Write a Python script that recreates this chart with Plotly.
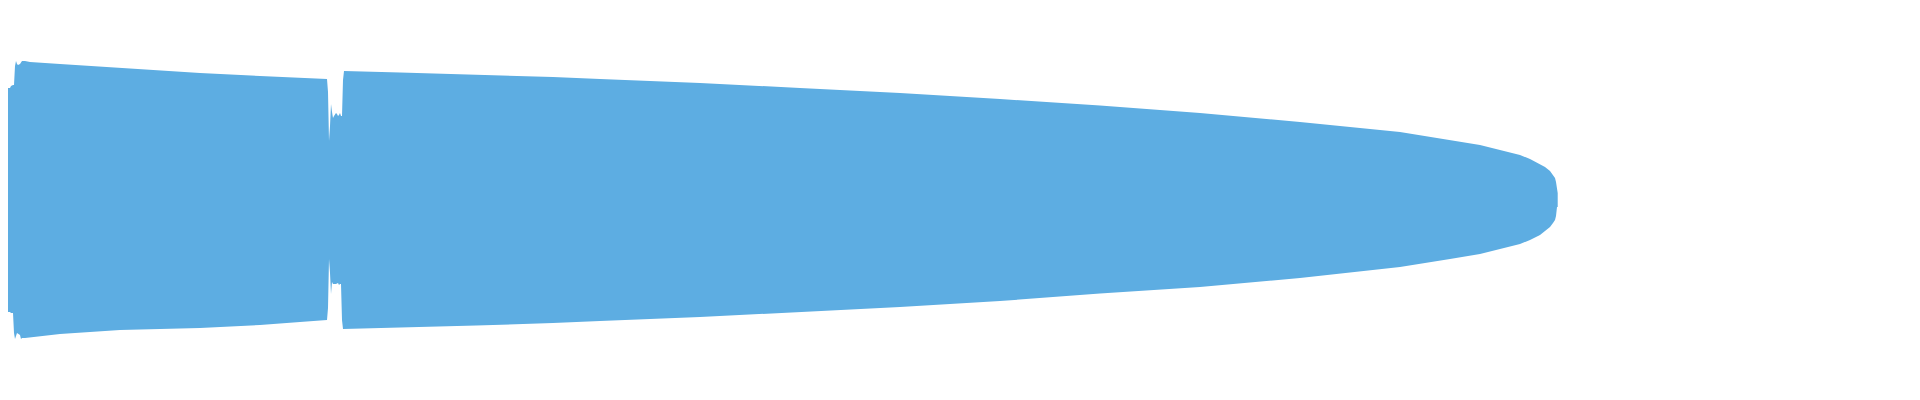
import plotly.graph_objects as go

# waveform envelope (peak max / peak min per frame)
frames = [2, 3, 4, 5, 6, 7, 8, 10, 11, 13, 14, 15, 16, 17, 18, 20, 21, 22, 25, 30,
          60, 120, 200, 260, 300, 327, 328, 329, 330, 331, 332, 333, 334, 335, 336,
          337, 338, 339, 340, 341, 342, 343, 344, 400, 476, 553, 600, 700, 800, 900,
          1000, 1100, 1200, 1300, 1400, 1450, 1480, 1500, 1520, 1530, 1540, 1545,
          1550, 1553, 1555, 1556, 1557, 1557.7]

peak_max = [0.585, 0.585, 0.61, 0.615, 0.595, 0.58, 0.56, 0.56, 0.57, 0.575, 0.575, 0.67,
            0.695, 0.68, 0.675, 0.68, 0.69, 0.695, 0.695, 0.69,
            0.68, 0.66, 0.635, 0.62, 0.61, 0.605, 0.54, 0.295, 0.37, 0.48, 0.44, 0.41,
            0.42, 0.43, 0.435, 0.43, 0.42, 0.425, 0.435, 0.42, 0.42, 0.60, 0.645,
            0.6375, 0.6275, 0.615, 0.605, 0.585, 0.56, 0.535, 0.505, 0.4725, 0.435,
            0.39, 0.34, 0.30, 0.275, 0.25, 0.225, 0.205, 0.18, 0.165,
            0.145, 0.125, 0.11, 0.09, 0.035, 0.035]

peak_min = [-0.58, -0.58, -0.61, -0.615, -0.58, -0.565, -0.56, -0.56, -0.565, -0.565,
            -0.665, -0.695, -0.68, -0.665, -0.67, -0.675, -0.695, -0.69, -0.69, -0.69,
            -0.67, -0.65, -0.64, -0.625, -0.61, -0.60, -0.54, -0.295, -0.365, -0.47,
            -0.41, -0.42, -0.42, -0.42, -0.42, -0.42, -0.415, -0.425, -0.42, -0.42,
            -0.60, -0.645, -0.645,
            -0.6375, -0.6275, -0.615, -0.605, -0.585, -0.56, -0.535, -0.505, -0.4675,
            -0.435, -0.39, -0.335, -0.295, -0.27, -0.245, -0.22, -0.20, -0.175, -0.155,
            -0.135, -0.115, -0.10, -0.08, -0.035, -0.035]

wave_color = '#5DADE2'

fig = go.Figure()
fig.add_trace(go.Scatter(
    x=frames + frames[::-1],
    y=peak_max + peak_min[::-1],
    mode='lines',
    fill='toself',
    fillcolor=wave_color,
    line=dict(width=0, color=wave_color),
    hoverinfo='skip',
    showlegend=False,
))

# ranges offset a little to cancel the page's 8px body margin
fig.update_layout(
    width=1920, height=400,
    margin=dict(l=0, r=0, t=0, b=0),
    paper_bgcolor='white', plot_bgcolor='white',
    xaxis=dict(range=[8, 1928], visible=False, fixedrange=True),
    yaxis=dict(range=[-1.04, 0.96], visible=False, fixedrange=True),
)

fig.write_html("out.html")
